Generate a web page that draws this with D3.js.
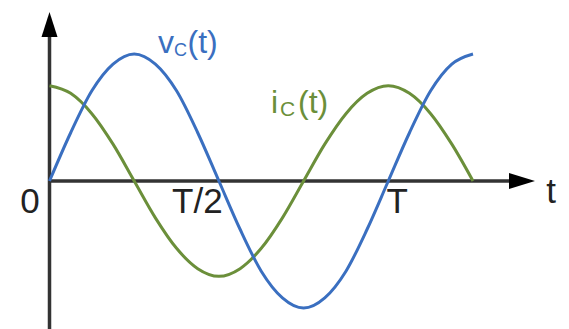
<!DOCTYPE html>
<html>
<head>
<meta charset="utf-8">
<script src="https://cdn.jsdelivr.net/npm/d3@7"></script>
<style>
  html, body { margin: 0; padding: 0; background: #fff; }
  svg { display: block; font-family: "Liberation Sans", Arial, sans-serif; }
</style>
</head>
<body>
<svg id="chart" width="569" height="329"></svg>
<script>
// Time samples in units of the period T (sixteenth-period steps)
const tValues = [0, 0.0625, 0.125, 0.1875, 0.25, 0.3125, 0.375, 0.4375, 0.5,
  0.5625, 0.625, 0.6875, 0.75, 0.8125, 0.875, 0.9375, 1, 1.0625, 1.125, 1.1875, 1.25];

// Capacitor voltage v_C(t), normalised to its peak
const vcValues = [0, 0.38, 0.71, 0.92, 1, 0.92, 0.71, 0.38, 0,
  -0.38, -0.71, -0.92, -1, -0.92, -0.71, -0.38, 0, 0.38, 0.71, 0.92, 1];

// Capacitor current i_C(t), leading the voltage by a quarter period
const icValues = [0.75, 0.69, 0.53, 0.29, 0, -0.29, -0.53, -0.69, -0.75,
  -0.69, -0.53, -0.29, 0, 0.29, 0.53, 0.69, 0.75, 0.69, 0.53, 0.29, 0];

// Time-axis tick positions and labels
const tickValues = [0, 0.5, 1];
const tickLabels = ["0", "T/2", "T"];

const svg = d3.select("#chart");

const x = d3.scaleLinear().domain([0, 1.25]).range([49.5, 473]);
const y = d3.scaleLinear().domain([-1, 1]).range([308, 54]);

const axisColor = "#333";
const blue = "#3a6fc0";
const green = "#6b8f3a";

// Vertical axis with arrow head
svg.append("line")
  .attr("x1", x(0)).attr("x2", x(0))
  .attr("y1", 329).attr("y2", 34)
  .attr("stroke", axisColor).attr("stroke-width", 3.5);
svg.append("path")
  .attr("d", `M${x(0)},12 L${x(0) - 8},37 L${x(0) + 8},37 Z`)
  .attr("fill", "#000");

// Horizontal time axis with arrow head
svg.append("line")
  .attr("x1", x(0)).attr("x2", 512)
  .attr("y1", y(0)).attr("y2", y(0))
  .attr("stroke", axisColor).attr("stroke-width", 3.5);
svg.append("path")
  .attr("d", `M535,${y(0)} L509,${y(0) - 8} L509,${y(0) + 8} Z`)
  .attr("fill", "#000");

// Waveforms
const line = d3.line()
  .x((d, i) => x(tValues[i]))
  .y(d => y(d))
  .curve(d3.curveMonotoneX);

svg.append("path")
  .datum(icValues)
  .attr("d", line)
  .attr("fill", "none")
  .attr("stroke", green)
  .attr("stroke-width", 3);

svg.append("path")
  .datum(vcValues)
  .attr("d", line)
  .attr("fill", "none")
  .attr("stroke", blue)
  .attr("stroke-width", 3);

// Tick labels, nudged clear of the curves
const tickDx = [-19.5, -21.5, 9];
svg.selectAll("text.tick")
  .data(tickValues)
  .enter().append("text")
  .attr("class", "tick")
  .attr("x", (d, i) => x(d) + tickDx[i])
  .attr("y", 213)
  .attr("text-anchor", "middle")
  .attr("font-size", 35)
  .attr("fill", "#222")
  .text((d, i) => tickLabels[i]);

// Axis variable
svg.append("text")
  .attr("x", 551).attr("y", 203)
  .attr("text-anchor", "middle")
  .attr("font-size", 35)
  .attr("fill", "#222")
  .text("t");

// Curve labels with subscripts: [main, subscript, argument] x positions
function curveLabel(xs, py, main, sub, subSize, color) {
  const t = svg.append("text")
    .attr("y", py)
    .attr("font-size", 32)
    .attr("fill", color);
  t.append("tspan").attr("x", xs[0]).text(main);
  t.append("tspan").attr("x", xs[1]).attr("font-size", subSize).attr("dy", 3).text(sub);
  t.append("tspan").attr("x", xs[2]).attr("dy", -3).text("(t)");
}
curveLabel([158, 174, 187.5], 53, "v", "C", 18, blue);
curveLabel([271, 280, 298], 113, "i", "C", 21, green);
</script>
</body>
</html>
